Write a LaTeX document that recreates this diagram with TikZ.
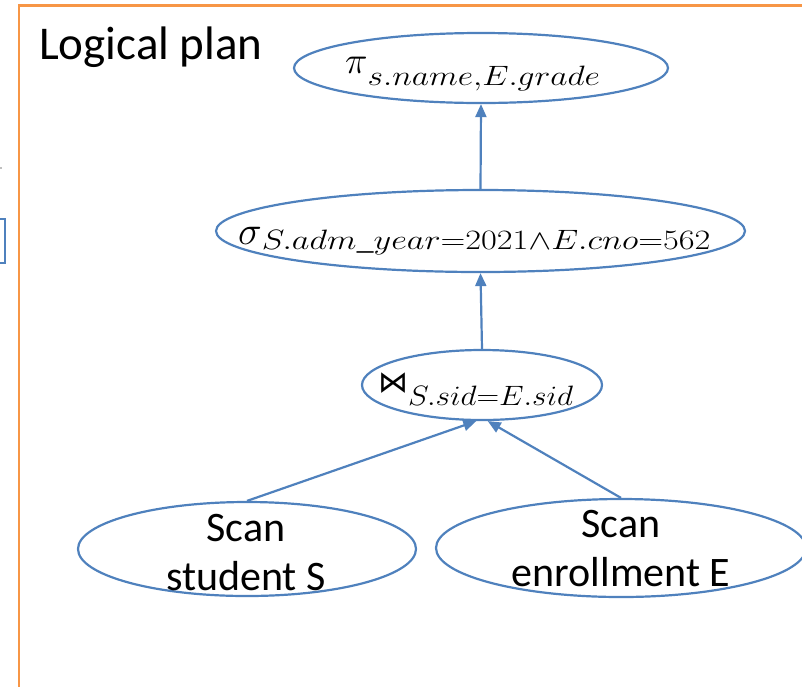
\RequirePackage{fix-cm}
\documentclass[tikz,border=0pt]{standalone}
\usepackage{fontspec}
\setmainfont{Carlito}
\newfontfamily\symbolfamily{DejaVu Sans}
\usepackage{amsmath}
\usetikzlibrary{shapes.geometric,arrows.meta}
\definecolor{planblue}{HTML}{4F81BD}
\definecolor{planorange}{HTML}{F79646}
\begin{document}
\begin{tikzpicture}[x=1pt,y=-1pt,
  op/.style={ellipse, draw=planblue, line width=2.2pt, inner sep=0pt},
  flow/.style={draw=planblue, line width=2.2pt, -{Triangle[length=13pt,width=11pt]}},
  lbl/.style={font=\fontsize{42}{49}\selectfont, align=center, text=black, inner sep=0pt},
  mathlbl/.style={inner sep=0pt, anchor=base west, text=black}]
\useasboundingbox (0,0) rectangle (802,686);
\begin{scope}
  \clip (0,0) rectangle (802,686);
  \draw[planorange, line width=2.8pt] (812,5.3) -- (19,5.3) -- (19,700);
  \draw[planblue, line width=2pt] (-10,219) rectangle (5,263);
  \fill[gray!50] (0,166.5) rectangle (2,168.5);
\end{scope}
\node[anchor=base west, inner sep=0pt, font=\fontsize{47}{47}\selectfont] (title) at (39,59) {Logical plan};
% operator ellipses
\node[op, minimum width=374pt, minimum height=70pt] (proj) at (481,68) {};
\node[op, minimum width=529pt, minimum height=82pt] (sel) at (480.5,231) {};
\node[op, minimum width=240pt, minimum height=70pt] (join) at (482,385) {};
\node[op, minimum width=338pt, minimum height=94pt] (scanS) at (247,549) {};
\node[op, minimum width=370pt, minimum height=98pt] (scanE) at (621,548) {};
% texts
\node[mathlbl] (projT) at (345,73) {\fontsize{38}{38}\selectfont$\pi$\raisebox{-12pt}{\scalebox{1.2}[1]{\fontsize{28}{28}\selectfont$s.name{,}E.grade$}}};
\node[mathlbl] (selT) at (238,244) {\fontsize{40}{40}\selectfont$\sigma$\raisebox{-5pt}{\scalebox{1.227}[1]{\fontsize{28}{28}\selectfont$S.adm\_year{=}2021{\wedge}E.cno{=}562$}}};
\node[mathlbl] (joinT) at (378,392) {{\symbolfamily\fontsize{30}{30}\selectfont ⋈}\raisebox{-13pt}{\scalebox{1.12}[1]{\fontsize{28}{28}\selectfont$S.sid{=}E.sid$}}};
\node[lbl] (scanST) at (246,553) {Scan\\student S};
\node[lbl] (scanET) at (621,549) {Scan\\enrollment E};
% connectors
\draw[flow] (sel.north) -- (proj.south);
\draw[flow] (join.north) -- (sel.south);
\draw[flow] (scanS.north) -- (join.261);
\draw[flow] (scanE.north) -- (join.279);
\end{tikzpicture}
\end{document}
